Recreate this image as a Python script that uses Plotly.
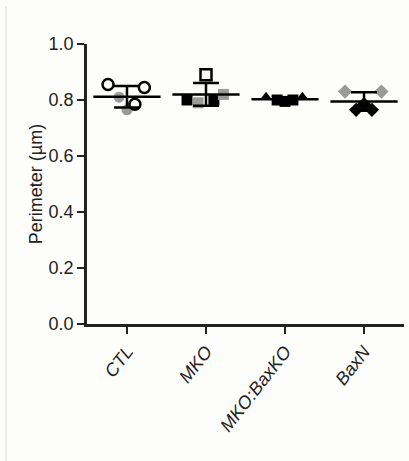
import numpy as np
import plotly.graph_objects as go

categories = ["CTL", "MKO", "MKO:BaxKO", "BaxN"]
values = {
    "CTL": [0.855, 0.81, 0.765, 0.785, 0.845],
    "MKO": [0.80, 0.79, 0.89, 0.80, 0.82],
    "MKO:BaxKO": [0.81, 0.80, 0.795, 0.80, 0.81],
    "BaxN": [0.83, 0.765, 0.785, 0.765, 0.83],
}
# point styling (symbol, fill colour)
symbols = {
    "CTL": ["circle-open", "circle", "circle", "circle-open", "circle-open"],
    "MKO": ["square", "square", "square-open", "square", "square"],
    "MKO:BaxKO": ["triangle-up", "square", "square", "square", "triangle-up"],
    "BaxN": ["diamond", "diamond", "diamond", "diamond", "diamond"],
}
colors = {
    "CTL": ["black", "#9a9a9a", "#9a9a9a", "black", "black"],
    "MKO": ["black", "#9a9a9a", "black", "black", "#9a9a9a"],
    "MKO:BaxKO": ["black", "black", "black", "black", "black"],
    "BaxN": ["#9a9a9a", "black", "black", "black", "#9a9a9a"],
}
jitter = [-0.24, -0.1, 0.0, 0.1, 0.22]

fig = go.Figure()
for i, c in enumerate(categories):
    v = np.array(values[c])
    xs = [i + j for j in jitter]
    for x, y, s, col in zip(xs, v, symbols[c], colors[c]):
        fig.add_trace(go.Scatter(
            x=[x], y=[y], mode="markers", cliponaxis=False, showlegend=False,
            marker=dict(symbol=s, size=11, color=col,
                        line=dict(width=2.5 if "open" in s else 0, color=col)),
        ))
    m = v.mean()
    sd = v.std(ddof=1)
    fig.add_trace(go.Scatter(
        x=[i], y=[m], mode="markers", cliponaxis=False, showlegend=False,
        marker=dict(symbol="line-ew", size=48, line=dict(width=2.5, color="black")),
        error_y=dict(type="data", array=[sd], visible=True, thickness=2.5,
                     width=13, color="black"),
    ))

fig.update_layout(
    width=409, height=461,
    margin=dict(l=87, r=5, t=44, b=137),
    paper_bgcolor="#fdfdfb", plot_bgcolor="#fdfdfb",
    font=dict(family="Liberation Sans, Arial, sans-serif", size=18, color="#222"),
    xaxis=dict(
        range=[-0.506, 3.506], tickmode="array", tickvals=list(range(len(categories))),
        ticktext=["<i>%s</i>" % c for c in categories], tickangle=-52,
        showline=True, linecolor="#222", linewidth=2.5, ticks="outside",
        ticklen=7, tickwidth=2, tickcolor="#222", showgrid=False, zeroline=False,
        tickfont=dict(size=18),
    ),
    yaxis=dict(
        range=[0, 1], tickvals=[0, 0.2, 0.4, 0.6, 0.8, 1.0], tickformat=".1f",
        showline=True, linecolor="#222", linewidth=2.5, ticks="outside",
        ticklen=7, tickwidth=2, tickcolor="#222", showgrid=False, zeroline=False,
        title=dict(text="Perimeter (µm)", font=dict(size=18), standoff=2),
        tickfont=dict(size=18),
    ),
    shapes=[dict(type="line", xref="paper", yref="paper",
                 x0=(6 - 87) / 317, x1=(6 - 87) / 317,
                 y0=-(461 - 324) / 280, y1=(324 - 6) / 280,
                 line=dict(color="#dddddd", width=1))],
)
fig.write_html("out.html")
